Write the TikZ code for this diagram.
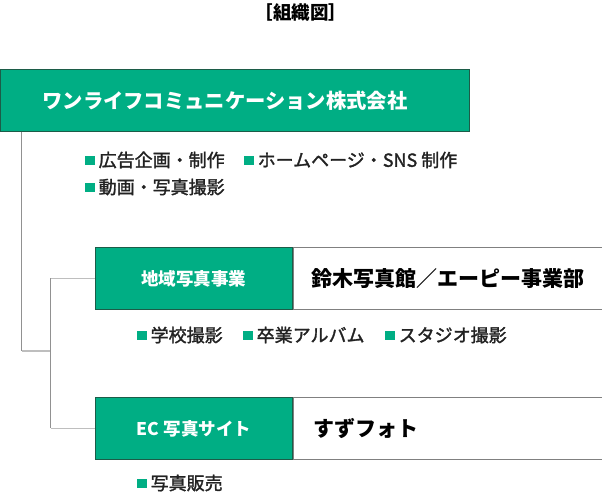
\documentclass[tikz,border=0pt]{standalone}
\usepackage{fontspec}
\setmainfont{Noto Sans CJK JP}
\newfontfamily\taskfont{Noto Sans CJK JP}[FakeBold=1.6]
\usepackage{xcolor}
\definecolor{orggreen}{RGB}{0,174,132}
\definecolor{orgdark}{RGB}{28,92,72}
\definecolor{orgline}{RGB}{145,145,145}
\definecolor{orglight}{RGB}{190,190,190}
\definecolor{orgtext}{RGB}{34,34,34}
\newcommand{\sqmark}{{\color{orggreen}\raisebox{1.5pt}{\rule{9.5pt}{9.5pt}}}\hspace{4pt}}

\begin{document}
\begin{tikzpicture}[x=1pt,y=-1pt]
			\tikzstyle{unit} = [draw=orgdark, fill=orggreen, text=white, font=\bfseries\fontsize{17.5}{20}\selectfont, minimum height=62pt, inner sep=0pt, anchor=north west, line width=0.8pt]
			\tikzstyle{brand} = [draw=gray, fill=white, text=black, font=\bfseries\fontsize{21}{24}\selectfont, minimum height=62pt, inner sep=0pt, anchor=north west, line width=0.8pt]
			\tikzstyle{task} = [anchor=west, inner sep=0pt, text=orgtext, font=\taskfont\fontsize{18}{20}\selectfont]
			\tikzset{edge/.style = {draw=orgline, line width=1.1pt}}
			\tikzset{tick/.style = {draw=orglight, line width=1.4pt}}
			\useasboundingbox (0,0) rectangle (602,493);

			\node[font=\bfseries\fontsize{18.5}{20}\selectfont](title) at (301,13) {［組織図］};

			\node[unit, minimum width=469pt, text width=385pt, inner xsep=42pt, align=left, font=\bfseries\fontsize{20.3}{24}\selectfont](company) at (0,69) {ワンライフコミュニケーション株式会社};
			\node[task](ad) at (85,160) {\sqmark 広告企画・制作};
			\node[task](web) at (244,160) {\sqmark ホームページ・SNS 制作};
			\node[task](movie) at (85,187) {\sqmark 動画・写真撮影};

			\node[unit, minimum width=197pt](region) at (95,247) {地域写真事業};
			\node[brand, minimum width=309pt](suzuki) at (region.north east) {鈴木写真館／エーピー事業部};
			\node[task](school) at (137,335) {\sqmark 学校撮影};
			\node[task](album) at (243,335) {\sqmark 卒業アルバム};
			\node[task](studio) at (385,335) {\sqmark スタジオ撮影};

			\node[unit, minimum width=197pt](ec) at (95,397) {EC 写真サイト};
			\node[brand, minimum width=302pt, text width=282pt, inner xsep=20pt, align=left](suzuphoto) at (ec.north east) {すずフォト};
			\node[task](sales) at (137,483) {\sqmark 写真販売};

			\coordinate (trunk) at (21.5,351);
			\coordinate (fork) at (50.5,351);
			\draw[edge](company.south -| trunk) -- (trunk);
			\draw[tick](trunk) -- (fork);
			\draw[edge](region.west -| fork) -- (ec.west -| fork);
			\draw[tick](region.west -| fork) -- (region.west);
			\draw[tick](ec.west -| fork) -- (ec.west);
			\draw[draw=orgdark, line width=0.8pt](region.north west) rectangle (region.south east);
			\draw[draw=orgdark, line width=0.8pt](ec.north west) rectangle (ec.south east);
\end{tikzpicture}
\end{document}
